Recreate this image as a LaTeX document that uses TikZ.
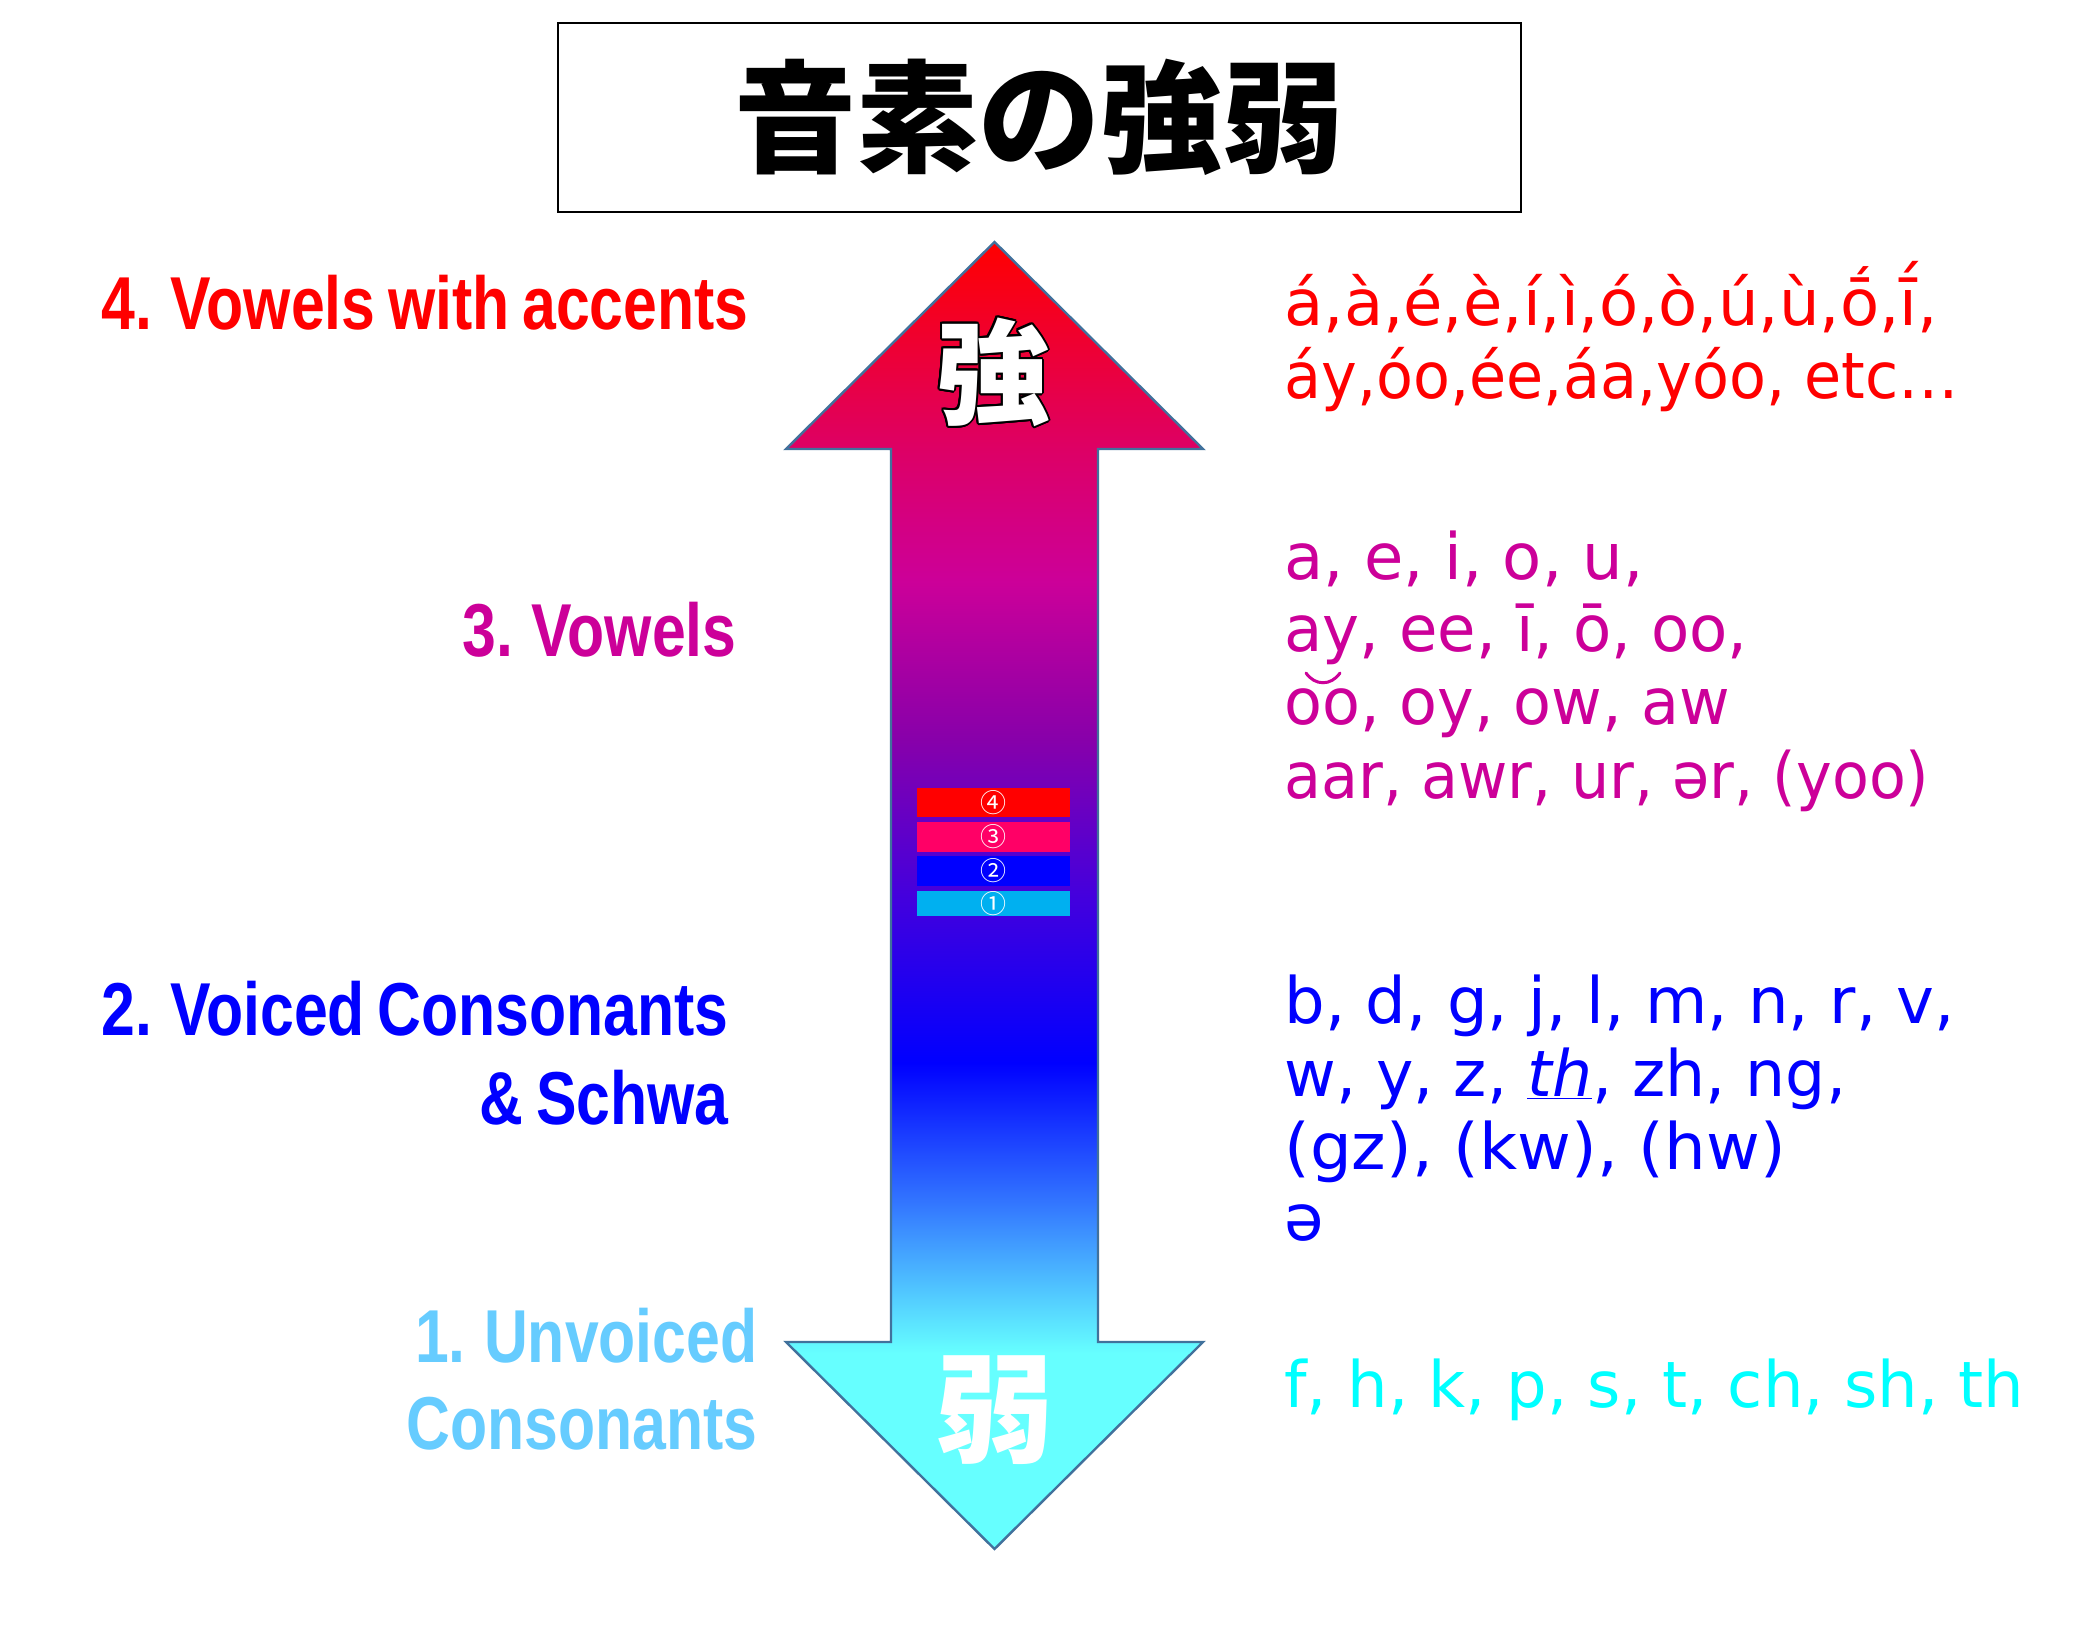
\documentclass[tikz,border=0pt]{standalone}
\usepackage{fontspec}
\setmainfont{DejaVu Sans}
\newfontfamily\labfont{Liberation Sans}[FakeStretch=0.81, WordSpace=0.75]
\newfontfamily\rtfont{DejaVu Sans}
\newfontfamily\cjkfont{Noto Sans CJK JP}
\definecolor{cRed}{HTML}{FF0000}
\definecolor{cMag}{HTML}{CC0099}
\definecolor{cBlue}{HTML}{0000FF}
\definecolor{cLight}{HTML}{66CCFF}
\definecolor{cCyan}{HTML}{00FFFF}
\definecolor{cOut}{HTML}{41719C}
\definecolor{sA}{HTML}{66FFFF}
\definecolor{sB}{HTML}{3377FF}
\definecolor{sC}{HTML}{0000FF}
\definecolor{sD}{HTML}{4400DD}
\definecolor{sE}{HTML}{8800AA}
\definecolor{sF}{HTML}{CC0099}
\definecolor{sG}{HTML}{DD0066}
\definecolor{sH}{HTML}{FF0000}
\definecolor{bar4}{HTML}{FF0000}
\definecolor{bar3}{HTML}{FF0066}
\definecolor{bar2}{HTML}{0000FF}
\definecolor{bar1}{HTML}{00B0F0}
\pgfdeclareverticalshading{arrowshade}{100bp}{color(0bp)=(sA); color(25bp)=(sA); color(32.5bp)=(sA); color(38.2bp)=(sB); color(43.6bp)=(sC); color(50bp)=(sD); color(56bp)=(sE); color(62bp)=(sF); color(67bp)=(sG); color(75bp)=(sH); color(100bp)=(sH)}
\tikzset{
  lab/.style={font=\labfont\bfseries\fontsize{37.5}{40}\selectfont, inner sep=0pt, anchor=base east},
  rtx/.style={font=\rtfont\fontsize{32}{36}\selectfont, inner sep=0pt, anchor=base west},
  kanji/.style={font=\cjkfont\bfseries\fontsize{57}{57}\selectfont, inner sep=0pt},
  barbox/.style={minimum width=76.5pt, inner sep=0pt, text=white, font=\cjkfont\fontsize{13}{13}\selectfont}
}
\begin{document}
\begin{tikzpicture}[x=0.5pt,y=-0.5pt]
\useasboundingbox[fill=white] (0,0) rectangle (2086,1633);

% title
\node[draw=black, line width=1pt, minimum width=481.5pt, minimum height=94.5pt, inner sep=0pt,
      font=\cjkfont\bfseries\fontsize{61}{61}\selectfont] (title) at (1039,117.5) {音素の強弱};

% double arrow
\coordinate (tipTop) at (994.5,242);
\coordinate (tipBot) at (994.5,1549);
\path[shading=arrowshade, draw=cOut, line width=1.2pt, line join=miter]
  (tipTop) -- (1203,449) -- (1098,449) -- (1098,1342) -- (1203,1342) -- (tipBot)
  -- (786,1342) -- (891,1342) -- (891,449) -- (786,449) -- cycle;

% strong / weak glyphs
\foreach \a in {0,22.5,...,337.5}
  \node[kanji, text=black] at (993,372) [shift={(\a:1pt)}] {強};
\node[kanji, text=white] (strong) at (993,372) {強};
\node[kanji, text=white, font=\cjkfont\bfseries\fontsize{59.5}{59.5}\selectfont] (weak) at (995,1410) {弱};

% small bars
\node[barbox, fill=bar4, minimum height=14.5pt] (b4) at (993.5,802.5) {④};
\node[barbox, fill=bar3, minimum height=15pt] (b3) at (993.5,837) {③};
\node[barbox, fill=bar2, minimum height=15pt] (b2) at (993.5,871) {②};
\node[barbox, fill=bar1, minimum height=12.5pt] (b1) at (993.5,903.5) {①};

% left labels
\node[lab, text=cRed] (l4) at (749,329) {4. Vowels with accents};
\node[lab, text=cMag] (l3) at (737,656) {3. Vowels};
\node[lab, text=cBlue] (l2a) at (729,1035) {2. Voiced Consonants};
\node[lab, text=cBlue] (l2b) at (729,1124) {\& Schwa};
\node[lab, text=cLight] (l1a) at (758,1362) {1. Unvoiced};
\node[lab, text=cLight] (l1b) at (758,1449) {Consonants};

% right texts
\node[rtx, text=cRed] (r4a) at (1284,325) {á,à,é,è,í,ì,ó,ò,ú,ù,ṓ,ī́,};
\node[rtx, text=cRed] (r4b) at (1284,398) {\scalebox{0.944}[1]{áy,óo,ée,áa,yóo, etc…}};

\node[rtx, text=cMag] (r3a) at (1284,579) {a, e, i, o, u,};
\node[rtx, text=cMag] (r3b) at (1284,651) {\scalebox{0.977}[1]{ay, ee, ī, ō, oo,}};
\node[rtx, text=cMag] (r3c) at (1284,724) {\scalebox{0.968}[1]{oo, oy, ow, aw}};
\node[rtx, text=cMag] (r3d) at (1284,798) {\scalebox{0.943}[1]{aar, awr, ur, ər, (yoo)}};
% double breve over the first "oo"
\draw[cMag, line width=1.5pt, line cap=round] (1306,673) .. controls (1315,686) and (1331,686) .. (1340,673);

\node[rtx, text=cBlue] (r2a) at (1284,1023) {b, d, g, j, l, m, n, r, v,};
\node[rtx, text=cBlue] (r2b) at (1284,1096) {\scalebox{0.988}[1]{w, y, z, \underline{\itshape th}, zh, ng,}};
\node[rtx, text=cBlue] (r2c) at (1284,1169) {\scalebox{1.028}[1]{(gz), (kw), (hw)}};
\node[rtx, text=cBlue] (r2d) at (1284,1240) {ə};

\node[rtx, text=cCyan] (r1a) at (1284,1407) {f, h, k, p, s, t, ch, sh, th};
\end{tikzpicture}
\end{document}
